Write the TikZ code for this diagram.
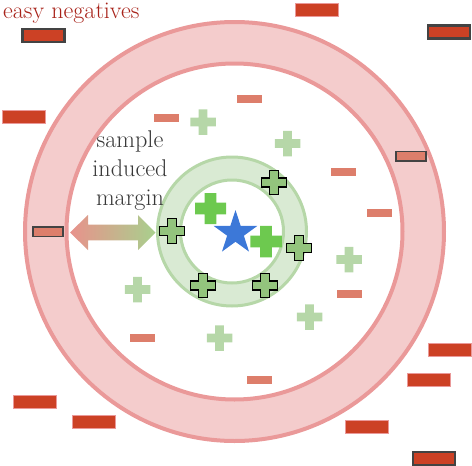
\documentclass[tikz,border=0pt]{standalone}
\usetikzlibrary{shapes.geometric}
\definecolor{ringpink}{HTML}{F4CCCC}
\definecolor{ringedge}{HTML}{EA9999}
\definecolor{ringgreen}{HTML}{D9EAD3}
\definecolor{greenedge}{HTML}{B6D7A8}
\definecolor{lightplus}{HTML}{B6D7A8}
\definecolor{midplus}{HTML}{93C47D}
\definecolor{brightplus}{HTML}{6DC94F}
\definecolor{lightminus}{HTML}{DD7E6B}
\definecolor{darkminus}{HTML}{CC4125}
\definecolor{boxedge}{HTML}{434343}
\definecolor{starblue}{HTML}{3C78D8}
\definecolor{titlered}{HTML}{A8231A}
\definecolor{textgray}{HTML}{383838}
\definecolor{arrowred}{HTML}{E8928C}
\definecolor{arrowgreen}{HTML}{A8D08D}
\newcommand{\plusmark}[5]{%
  \path[#5, shift={(#1,#2)}, scale=#3]
    (-0.5,-#4) -- (-#4,-#4) -- (-#4,-0.5) -- (#4,-0.5) -- (#4,-#4) -- (0.5,-#4)
    -- (0.5,#4) -- (#4,#4) -- (#4,0.5) -- (-#4,0.5) -- (-#4,#4) -- (-0.5,#4) -- cycle;}
\begin{document}
\begin{tikzpicture}[x=1pt,y=-1pt,
  bigneg/.style={rectangle, inner sep=0pt, minimum width=43pt, minimum height=13pt, fill=darkminus, draw=ringedge, line width=0.5pt},
  bigbox/.style={bigneg, draw=boxedge, line width=2.5pt, minimum width=42pt, minimum height=13pt},
  smallneg/.style={rectangle, inner sep=0pt, minimum width=25pt, minimum height=8pt, fill=lightminus},
  smallbox/.style={smallneg, draw=boxedge, line width=1.5pt, minimum width=30pt, minimum height=9.5pt},
  lightpl/.style={fill=lightplus},
  boxpl/.style={fill=midplus, draw=black, line width=1.4pt, line join=miter},
  brightpl/.style={fill=brightplus}]
\useasboundingbox (0,0) rectangle (472,466);
% outer ring
\coordinate (c) at (234.5,231.5);
\fill[ringpink, even odd rule] (c) circle[radius=209.5] (c) circle[radius=168];
\draw[ringedge, line width=4pt] (c) circle[radius=209.5] (c) circle[radius=168];
% inner ring
\coordinate (g) at (232,231.5);
\fill[ringgreen, even odd rule] (g) circle[radius=74.5] (g) circle[radius=51.5];
\draw[greenedge, line width=3pt] (g) circle[radius=74.5] (g) circle[radius=51.5];
% easy negatives
\node[bigbox] (n1) at (43.5,35.5) {};
\node[bigneg] (n2) at (23.5,117) {};
\node[bigneg] (n3) at (317,10) {};
\node[bigbox] (n4) at (449,32) {};
\node[bigneg] (n5) at (449.5,350) {};
\node[bigneg] (n6) at (429,380) {};
\node[bigbox] (n7) at (434,458.5) {};
\node[bigneg] (n8) at (35,401.5) {};
\node[bigneg] (n9) at (94,421.5) {};
\node[bigneg] (n10) at (367,427) {};
% negatives inside
\node[smallneg] (s1) at (166,117.5) {};
\node[smallneg] (s2) at (249,98.5) {};
\node[smallneg] (s3) at (343.5,172) {};
\node[smallneg] (s4) at (379.5,213) {};
\node[smallneg] (s5) at (349,293.5) {};
\node[smallneg] (s6) at (142,338) {};
\node[smallneg] (s7) at (259.5,379.5) {};
\node[smallbox] (b1) at (48,231.5) {};
\node[smallbox] (b2) at (411,156) {};
% light positives
\plusmark{203}{122}{25.5}{0.17}{lightpl}
\plusmark{287.5}{143.5}{25.5}{0.17}{lightpl}
\plusmark{137.5}{289.5}{25.5}{0.17}{lightpl}
\plusmark{219.5}{338}{25.5}{0.17}{lightpl}
\plusmark{309.5}{317}{25.5}{0.17}{lightpl}
\plusmark{349}{259.5}{25.5}{0.17}{lightpl}
% bordered positives
\plusmark{274}{182.5}{24.5}{0.19}{boxpl}
\plusmark{172}{231}{24.5}{0.19}{boxpl}
\plusmark{299}{248}{24.5}{0.19}{boxpl}
\plusmark{203}{285.5}{24.5}{0.19}{boxpl}
\plusmark{265}{285.5}{24.5}{0.19}{boxpl}
% bright positives
\plusmark{210.5}{208.5}{31}{0.19}{brightpl}
\plusmark{266}{241.5}{31.5}{0.19}{brightpl}
% anchor
\node[star, star points=5, star point ratio=2.618, minimum size=46pt, inner sep=0pt, fill=starblue] (anchor) at (235.5,233) {};
% margin arrow
\shade[left color=arrowred, right color=arrowgreen]
  (70,232.5) -- (88,215) -- (88,224.7) -- (138,224.7) -- (138,215) -- (155.5,232.5)
  -- (138,250) -- (138,240.3) -- (88,240.3) -- (88,250) -- cycle;
% texts
\node[anchor=base west, inner sep=0pt, text=titlered, font=\fontsize{24}{28}\selectfont] (title) at (3,18.5) {easy negatives};
\node[align=center, inner sep=0pt, text=textgray, font=\fontsize{24.2}{28.75}\selectfont] (label) at (130,170.5) {sample\\induced\\margin};
\end{tikzpicture}
\end{document}
